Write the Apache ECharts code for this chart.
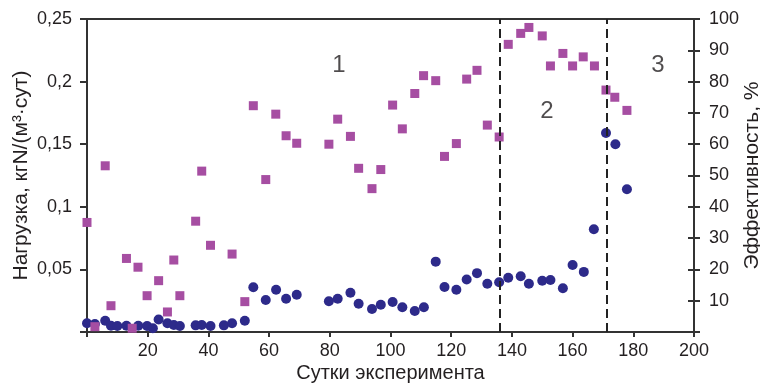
<!DOCTYPE html>
<html>
<head>
<meta charset="utf-8">
<script src="https://cdn.jsdelivr.net/npm/echarts@6/dist/echarts.min.js"></script>
<style>
  html, body { margin: 0; padding: 0; background: #fff; }
  #chart { width: 760px; height: 383px; }
</style>
</head>
<body>
<div id="chart"></div>
<script>
// эффективность, % (квадраты, правая ось)
const effDays = [0, 2.6, 6.0, 7.9, 13.0, 14.9, 16.8, 19.8, 23.6, 26.5, 28.6, 30.6, 35.8, 37.8, 40.7, 47.8,
  52.0, 54.8, 58.9, 62.2, 65.6, 69.1, 79.7, 82.6, 86.8, 89.5, 93.9, 96.8, 100.7, 103.9, 108.0, 110.9,
  114.9, 117.8, 121.7, 125.1, 128.5, 131.9, 135.8, 138.8, 142.9, 145.6, 150.0, 152.7, 156.8, 160.0,
  163.5, 167.2, 171.0, 173.9, 177.9];
const effValues = [35, 1.7, 53.1, 8.4, 23.5, 1.2, 20.7, 11.6, 16.4, 6.4, 23.0, 11.6, 35.4, 51.4, 27.7, 24.9,
  9.7, 72.3, 48.7, 69.6, 62.7, 60.3, 60.0, 68.0, 62.5, 52.3, 45.8, 51.9, 72.5, 64.9, 76.2, 81.9,
  80.3, 56.1, 60.2, 80.8, 83.6, 66.1, 62.3, 91.9, 95.4, 97.3, 94.6, 85.0, 89.0, 85.0,
  87.9, 85.0, 77.3, 75.0, 70.8];

// нагрузка, кгN/(м3·сут) (кружки, левая ось)
const loadDays = [0, 2.6, 6.0, 7.9, 10.0, 13.0, 16.9, 19.8, 21.7, 23.6, 26.5, 28.6, 30.6, 35.8, 37.8, 40.7,
  45.1, 47.8, 52.0, 54.8, 58.9, 62.3, 65.6, 69.1, 79.7, 82.6, 86.8, 89.5, 93.9, 96.8, 100.7, 103.9,
  108.0, 111.0, 114.9, 117.8, 121.7, 125.1, 128.5, 131.9, 135.8, 138.8, 142.9, 145.6, 150.0, 152.7,
  156.8, 160.0, 163.7, 167.0, 171.0, 174.1, 177.9];
const loadValues = [0.007, 0.0064, 0.009, 0.005, 0.0048, 0.005, 0.005, 0.0048, 0.003, 0.010, 0.007, 0.0056, 0.0048, 0.0053, 0.0056, 0.0048,
  0.0053, 0.007, 0.009, 0.0357, 0.0256, 0.0338, 0.0266, 0.0298, 0.0245, 0.0266, 0.0314, 0.0226, 0.0184, 0.0218, 0.024, 0.0197,
  0.0168, 0.0197, 0.0562, 0.036, 0.0338, 0.042, 0.047, 0.0386, 0.0397, 0.0434, 0.0445, 0.0386, 0.041, 0.0415,
  0.035, 0.0535, 0.048, 0.082, 0.159, 0.150, 0.114];

// границы периодов и их номера
const phaseBounds = [136.1, 171.2];
const phaseLabels = [[83, 85.3, '1'], [151.5, 70.4, '2'], [188.1, 85.3, '3']];

const FONT = "'Liberation Sans', Arial, sans-serif";
const TXT = '#231f20';
const AX = '#333';

const chart = echarts.init(document.getElementById('chart'));

const hideZero = (v) => (v === 0 ? '' : String(v).replace('.', ','));

chart.setOption({
  animation: false,
  textStyle: { fontFamily: FONT },
  grid: {
    left: 87, right: 66, top: 19, bottom: 51,
    outerBoundsMode: 'none', containLabel: false,
    show: true, borderColor: AX, borderWidth: 2,
  },
  xAxis: {
    type: 'value', min: 0, max: 200, interval: 20,
    name: 'Сутки эксперимента', nameLocation: 'middle', nameGap: 31, nameMoveOverlap: false,
    nameTextStyle: { color: TXT, fontSize: 20, fontFamily: FONT },
    axisLine: { lineStyle: { color: AX, width: 2 } },
    axisTick: { length: 5, lineStyle: { color: AX, width: 2 } },
    axisLabel: { color: TXT, fontSize: 18, margin: 10, formatter: hideZero },
    splitLine: { show: false },
  },
  yAxis: [
    {
      type: 'value', min: 0, max: 0.25, interval: 0.05, position: 'left',
      name: 'Нагрузка, кгN/(м³·сут)', nameLocation: 'middle', nameGap: 55, nameRotate: 90, nameMoveOverlap: false,
      nameTextStyle: { color: TXT, fontSize: 21, fontFamily: FONT },
      axisLine: { show: true, lineStyle: { color: AX, width: 2 } },
      axisTick: { show: true, length: 7, lineStyle: { color: AX, width: 2 } },
      axisLabel: { color: TXT, fontSize: 18, margin: 15, formatter: (v) => (v === 0 ? '' : (+v.toFixed(2)).toString().replace('.', ',')) },
      splitLine: { show: false },
    },
    {
      type: 'value', min: 0, max: 100, interval: 10, position: 'right',
      name: 'Эффективность, %', nameLocation: 'middle', nameGap: 48, nameRotate: 90, nameMoveOverlap: false,
      nameTextStyle: { color: TXT, fontSize: 21, fontFamily: FONT },
      axisLine: { show: true, lineStyle: { color: AX, width: 2 } },
      axisTick: { show: true, length: 6, lineStyle: { color: AX, width: 2 } },
      axisLabel: { color: TXT, fontSize: 18, margin: 15, formatter: hideZero },
      splitLine: { show: false },
    },
    {
      // внутренние засечки правой оси
      type: 'value', min: 0, max: 100, interval: 10, position: 'right',
      axisLine: { show: false },
      axisTick: { show: true, inside: true, length: 6, lineStyle: { color: AX, width: 2 } },
      axisLabel: { show: false },
      splitLine: { show: false },
    },
  ],
  series: [
    {
      type: 'scatter', yAxisIndex: 0, silent: true,
      symbol: 'circle', symbolSize: 10,
      itemStyle: { color: '#2d2a8a', opacity: 1 },
      data: loadDays.map((d, i) => [d, loadValues[i]]),
    },
    {
      type: 'scatter', yAxisIndex: 1, silent: true,
      symbol: 'rect', symbolSize: 9,
      itemStyle: { color: '#a64ea2', opacity: 1 },
      data: effDays.map((d, i) => [d, effValues[i]]),
      markLine: {
        silent: true, symbol: 'none',
        label: { show: false },
        lineStyle: { color: '#222', width: 2, type: [9, 5] },
        data: phaseBounds.map((x) => ({ xAxis: x })),
      },
    },
    {
      type: 'scatter', yAxisIndex: 1, silent: true,
      symbolSize: 0,
      label: {
        show: true, position: 'inside', color: TXT, fontSize: 24, fontFamily: FONT,
        formatter: (p) => p.data[2],
      },
      data: phaseLabels,
    },
  ],
});
</script>
</body>
</html>
